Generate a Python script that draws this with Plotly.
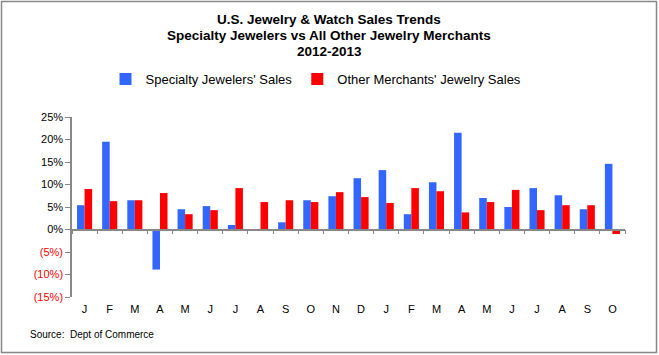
import plotly.graph_objects as go

months = ["J", "F", "M", "A", "M", "J", "J", "A", "S", "O", "N", "D",
          "J", "F", "M", "A", "M", "J", "J", "A", "S", "O"]
specialty = [5.4, 19.5, 6.5, -8.9, 4.5, 5.2, 1.0, -0.1, 1.6, 6.5, 7.4, 11.4,
             13.2, 3.4, 10.5, 21.5, 7.0, 5.0, 9.2, 7.6, 4.5, 14.6]
other = [9.0, 6.3, 6.5, 8.1, 3.4, 4.3, 9.2, 6.1, 6.5, 6.1, 8.3, 7.2,
         5.9, 9.2, 8.5, 3.8, 6.1, 8.8, 4.3, 5.4, 5.4, -1.0]
y_ticks = [-15, -10, -5, 0, 5, 10, 15, 20, 25]

def fmt(v):
    if v < 0:
        return f'<span style="color:#FF0000">({abs(v)}%)</span>'
    return f"{v}%"

x = list(range(len(months)))
W, H = 659, 355
L, R, T, B = 72, 34, 117, 58
pw, ph = W - L - R, H - T - B
ymin, ymax = -15, 25

font = "Liberation Sans Narrow, Arial Narrow, Liberation Sans, Arial, sans-serif"

fig = go.Figure()
fig.add_trace(go.Bar(x=x, y=specialty, name="Specialty Jewelers' Sales",
                     marker=dict(color="#3366FF", line=dict(width=0))))
fig.add_trace(go.Bar(x=x, y=other, name="Other Merchants' Jewelry Sales",
                     marker=dict(color="#FF0000", line=dict(width=0))))

# invisible trace to carry the zero-line axis with boundary ticks
fig.add_trace(go.Scatter(x=[-0.5, len(months) - 0.5], y=[0, 0], xaxis="x2",
                         mode="lines", line=dict(color="rgba(0,0,0,0)"),
                         showlegend=False, hoverinfo="skip"))

zero_pos = (0 - ymin) / (ymax - ymin)

def py(pix):
    return (T + ph - pix) / ph

def px(pix):
    return (pix - L) / pw

fig.update_layout(
    width=W, height=H,
    margin=dict(l=L, r=R, t=T, b=B),
    paper_bgcolor="white", plot_bgcolor="white",
    barmode="group", bargap=0.4, bargroupgap=0,
    font=dict(family="Liberation Sans, Arial, sans-serif", size=11, color="black"),
    showlegend=True,
    legend=dict(orientation="h", x=px(316), xanchor="center",
                y=py(79), yanchor="middle",
                font=dict(family=font, size=13, color="black"),
                itemwidth=30, tracegroupgap=0,
                bgcolor="rgba(0,0,0,0)"),
    xaxis=dict(range=[-0.5, len(months) - 0.5], tickmode="array",
               tickvals=x, ticktext=months, showline=False, showgrid=False,
               zeroline=False, ticks="", ticklabelstandoff=4,
               tickfont=dict(family="Liberation Sans, Arial", size=11)),
    xaxis2=dict(overlaying="x", anchor="free", position=zero_pos,
                range=[-0.5, len(months) - 0.5], showline=True,
                linecolor="#888888", linewidth=1.5, ticks="outside",
                ticklen=4, tickcolor="#888888", tickwidth=1,
                tickmode="array", tickvals=[i - 0.5 for i in range(len(months) + 1)],
                showticklabels=False, showgrid=False, zeroline=False),
    yaxis=dict(range=[ymin, ymax], tickmode="array", tickvals=y_ticks,
               ticktext=[fmt(v) for v in y_ticks], showline=True,
               linecolor="#888888", linewidth=1.5, ticks="outside",
               ticklen=5, tickcolor="#888888", showgrid=False, zeroline=False,
               tickfont=dict(family="Liberation Sans, Arial", size=11)),
    annotations=[
        dict(text="<b>U.S. Jewelry & Watch Sales Trends</b>", xref="paper", yref="paper",
             x=px(329), y=py(20), yanchor="middle", xanchor="center", showarrow=False,
             font=dict(family=font, size=13.5)),
        dict(text="<b>Specialty Jewelers vs All Other Jewelry Merchants</b>", xref="paper",
             yref="paper", x=px(329), y=py(35), yanchor="middle", xanchor="center",
             showarrow=False, font=dict(family=font, size=13.5)),
        dict(text="<b>2012-2013</b>", xref="paper", yref="paper",
             x=px(329), y=py(51), yanchor="middle", xanchor="center", showarrow=False,
             font=dict(family=font, size=13.5)),
        dict(text="Source:  Dept of Commerce", xref="paper", yref="paper",
             x=px(28), xanchor="left", y=py(334), yanchor="middle",
             showarrow=False, font=dict(family=font, size=10)),
    ],
    shapes=[dict(type="rect", xref="paper", yref="paper",
                 x0=px(1.5), x1=px(656.5), y0=py(352.5), y1=py(1.5),
                 line=dict(color="#888888", width=1.5), layer="below")],
)

fig.write_html("out.html", config={"displayModeBar": False},
               post_script="document.body.style.margin='0';document.body.style.padding='0';")
